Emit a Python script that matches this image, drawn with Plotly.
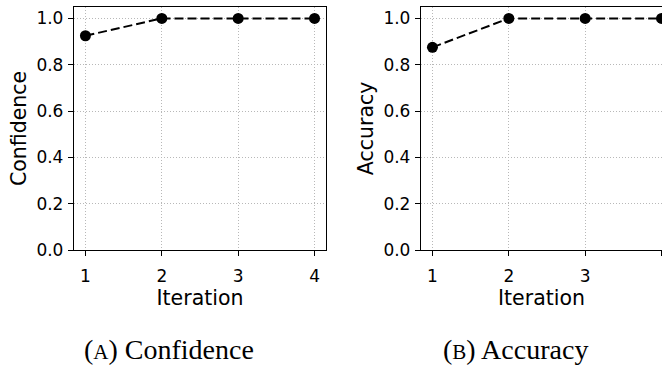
import plotly.graph_objects as go

iterations = [1, 2, 3, 4]
confidence = [0.925, 1.0, 1.0, 1.0]
accuracy = [0.875, 1.0, 1.0, 1.0]
y_ticks = [0.0, 0.2, 0.4, 0.6, 0.8, 1.0]
y_tick_labels = ["0.0", "0.2", "0.4", "0.6", "0.8", "1.0"]
x_ticks = [1, 2, 3, 4]
captions = ["(<span style='font-size:21px'>A</span>) Confidence",
            "(<span style='font-size:21px'>B</span>) Accuracy"]
y_titles = ["Confidence", "Accuracy"]

W, H = 662, 368
fig = go.Figure()

for i, (vals, xa, ya) in enumerate([(confidence, "x", "y"), (accuracy, "x2", "y2")]):
    fig.add_trace(go.Scatter(
        x=iterations, y=vals, xaxis=xa, yaxis=ya, mode="lines+markers",
        line=dict(color="black", width=2, dash="9px,4px"),
        marker=dict(color="black", size=11),
        showlegend=False, cliponaxis=True,
    ))

top, bottom = 7, 257
ydom = [1 - bottom / H, 1 - top / H]
left1, right1 = 74, 326
left2, right2 = 421, 662
unit = (right1 - left1) / 3.3
x_range1 = [0.85, 4.15]
x_range2 = [0.85, 0.85 + (right2 - left2) / unit]

title_font = dict(family="DejaVu Sans", size=20.5, color="black")
tick_font = dict(family="DejaVu Sans", size=17, color="black")
axis_common = dict(
    showline=True, linecolor="black", linewidth=1.3,
    ticks="outside", ticklen=5, tickwidth=1.2, tickcolor="black",
    showgrid=True, gridcolor="#b8b8b8", griddash="1px,2px", gridwidth=1,
    zeroline=False, tickfont=tick_font,
)

fig.update_layout(
    width=W, height=H, margin=dict(l=0, r=0, t=0, b=0),
    paper_bgcolor="white", plot_bgcolor="white",
    xaxis=dict(domain=[left1 / W, right1 / W], range=x_range1, tickvals=x_ticks,
               mirror=True, anchor="y", ticklabelstandoff=5,
               title=dict(text="Iteration", font=title_font, standoff=6),
               **axis_common),
    yaxis=dict(domain=ydom, range=[0, 1.05], tickvals=y_ticks, ticktext=y_tick_labels,
               mirror=True, anchor="x", ticklabelstandoff=1,
               title=dict(text=y_titles[0], font=title_font, standoff=4),
               **axis_common),
    xaxis2=dict(domain=[left2 / W, right2 / W], range=x_range2, tickvals=x_ticks,
                mirror=True, anchor="y2", ticklabelstandoff=5,
                title=dict(text="Iteration", font=title_font, standoff=6),
                **axis_common),
    yaxis2=dict(domain=ydom, range=[0, 1.05], tickvals=y_ticks, ticktext=y_tick_labels,
                mirror=False, anchor="x2", ticklabelstandoff=1,
                title=dict(text=y_titles[1], font=title_font, standoff=4),
                **axis_common),
)

for cx, text in zip([169, 515], captions):
    fig.add_annotation(
        x=cx / W, y=1 - 359 / H, xref="paper", yref="paper", text=text,
        showarrow=False, xanchor="center", yanchor="middle",
        font=dict(family="Liberation Serif", size=28, color="black"),
    )

fig.write_html("out.html")
